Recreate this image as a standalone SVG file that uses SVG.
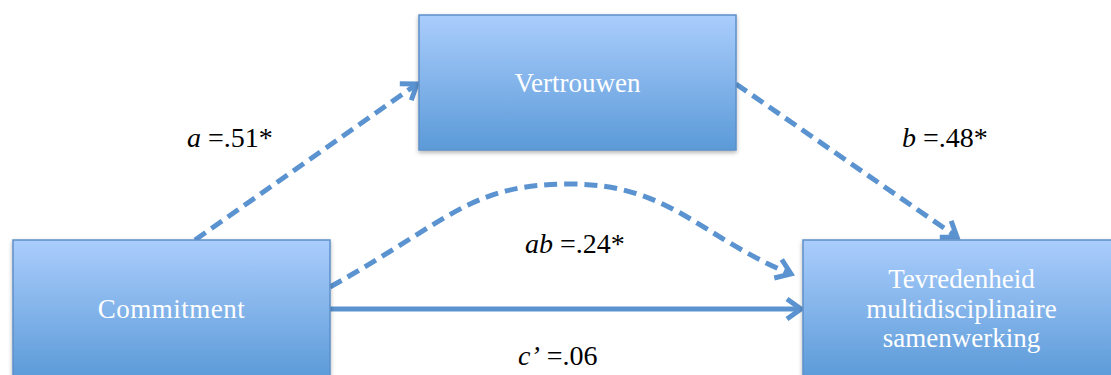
<svg xmlns="http://www.w3.org/2000/svg" width="1111" height="375" viewBox="0 0 1111 375">
<style>
.box{fill:url(#g);stroke:#5d90c9;stroke-width:1.5;filter:url(#sh)}
.nt{font-family:"Liberation Serif","Times New Roman",serif;font-size:27px;fill:#ffffff;text-anchor:middle}
.lb{font-family:"Liberation Serif","Times New Roman",serif;font-size:28px;fill:#000000}
.c{fill:none;stroke:#5b93d0;stroke-width:5}
.d{stroke-dasharray:13 7}
</style>
<defs>
<linearGradient id="g" x1="0" y1="0" x2="0" y2="1">
<stop offset="0" stop-color="#aacdfc"/>
<stop offset="1" stop-color="#5b9ad8"/>
</linearGradient>
<filter id="sh" x="-10%" y="-10%" width="120%" height="130%">
<feDropShadow dx="0" dy="2" stdDeviation="2" flood-color="#000" flood-opacity="0.3"/>
</filter>
<marker id="ah" markerUnits="userSpaceOnUse" markerWidth="30" markerHeight="30" viewBox="-20 -15 25 30" refX="0" refY="0" orient="auto">
<path d="M-14,-10 L0,0 L-14,10" fill="none" stroke="#5b93d0" stroke-width="5" stroke-linejoin="miter"/>
</marker>
</defs>
<g id="connectors">
<path class="c d" d="M195,240 L417,84" marker-end="url(#ah)"/>
<path class="c d" d="M736,84 L957,237" marker-end="url(#ah)"/>
<path class="c d" d="M330,287 C450,220 470,184 570,184 C670,184 700,237 791,274" marker-end="url(#ah)"/>
<path class="c" d="M330,309 L801,309" marker-end="url(#ah)"/>
</g>
<g id="n-vertrouwen">
<rect class="box" x="419" y="15" width="317" height="135"/>
<text class="nt" x="577.5" y="92">Vertrouwen</text>
</g>
<g id="n-commitment">
<rect class="box" x="13" y="240" width="317" height="140"/>
<text class="nt" x="171.5" y="318" letter-spacing="0.5">Commitment</text>
</g>
<g id="n-tevredenheid">
<rect class="box" x="803" y="240" width="317" height="140"/>
<text class="nt" x="961.5" y="288">Tevredenheid</text>
<text class="nt" x="961.5" y="318">multidisciplinaire</text>
<text class="nt" x="961.5" y="347">samenwerking</text>
</g>
<g id="labels">
<text class="lb" x="187" y="147"><tspan font-style="italic">a</tspan> =.51*</text>
<text class="lb" x="902" y="147"><tspan font-style="italic">b</tspan> =.48*</text>
<text class="lb" x="525" y="253"><tspan font-style="italic">ab</tspan> =.24*</text>
<text class="lb" x="518" y="365"><tspan font-style="italic">c’</tspan> =.06</text>
</g>
</svg>
